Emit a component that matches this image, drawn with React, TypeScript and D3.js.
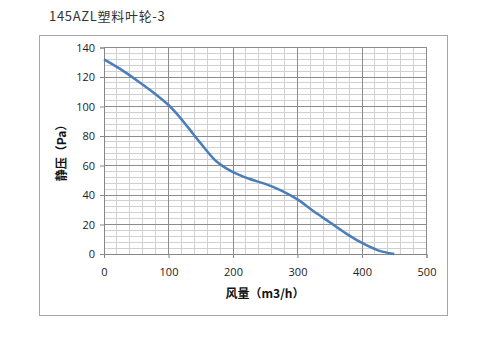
import React, { useEffect, useRef } from "react";
import * as d3 from "d3";

const flow = [0, 25, 50, 75, 100, 115, 130, 150, 175, 200, 225, 250, 275, 300, 325, 350, 375, 400, 425, 450];
const pressure = [132, 125.5, 118, 110, 101, 94, 86, 75, 62.5, 55.5, 51, 47.5, 43, 37, 29, 21.5, 14, 7.5, 2.5, 0];
const xTicks = [0, 100, 200, 300, 400, 500];
const yTicks = [0, 20, 40, 60, 80, 100, 120, 140];

const title = "145AZL塑料叶轮-3";
const xTitle = "风量（m3/h）";
const yTitle = "静压（Pa）";

export default function App() {
  const ref = useRef<SVGSVGElement>(null);

  useEffect(() => {
    const svg = d3.select(ref.current);
    svg.selectAll("*").remove();

    const x = d3.scaleLinear().domain([0, 500]).range([104, 426.5]);
    const y = d3.scaleLinear().domain([0, 140]).range([254, 47.5]);

    // chart frame
    svg.append("rect")
      .attr("x", 39.5).attr("y", 35.5)
      .attr("width", 408).attr("height", 280)
      .attr("fill", "#fff")
      .attr("stroke", "#a6a6a6");

    // minor grid
    const g = svg.append("g").attr("shape-rendering", "crispEdges");
    g.selectAll(".vmin")
      .data(d3.range(0, 501, 20))
      .enter().append("line")
      .attr("x1", d => x(d)).attr("x2", d => x(d))
      .attr("y1", y(0)).attr("y2", y(140))
      .attr("stroke", "#d0d0d0");
    g.selectAll(".hmin")
      .data(d3.range(0, 141, 4))
      .enter().append("line")
      .attr("x1", x(0)).attr("x2", x(500))
      .attr("y1", d => y(d)).attr("y2", d => y(d))
      .attr("stroke", "#d0d0d0");
    // major grid
    g.selectAll(".vmaj")
      .data(xTicks)
      .enter().append("line")
      .attr("x1", d => x(d)).attr("x2", d => x(d))
      .attr("y1", y(0)).attr("y2", y(140))
      .attr("stroke", "#8c8c8c");
    g.selectAll(".hmaj")
      .data(yTicks)
      .enter().append("line")
      .attr("x1", x(0)).attr("x2", x(500))
      .attr("y1", d => y(d)).attr("y2", d => y(d))
      .attr("stroke", "#8c8c8c");

    // axes
    const xAxis = svg.append("g")
      .attr("transform", "translate(0," + y(0) + ")")
      .call(d3.axisBottom(x).tickValues(xTicks).tickSize(4).tickPadding(10));
    const yAxis = svg.append("g")
      .attr("transform", "translate(" + x(0) + ",0)")
      .call(d3.axisLeft(y).tickValues(yTicks).tickSize(4).tickPadding(5));
    [xAxis, yAxis].forEach(a => {
      a.select(".domain").attr("stroke", "#868686");
      a.selectAll(".tick line").attr("stroke", "#868686");
      a.selectAll("text")
        .attr("fill", "#222")
        .style("font-family", "'Open Sans', 'DejaVu Sans', sans-serif")
        .style("font-size", "11px");
    });

    // curve
    const pts = flow.map((f, i) => [f, pressure[i]] as [number, number]);
    svg.append("path")
      .datum(pts)
      .attr("fill", "none")
      .attr("stroke", "#4a7ebb")
      .attr("stroke-width", 2.5)
      .attr("d", d3.line<[number, number]>()
        .x(d => x(d[0]))
        .y(d => y(d[1]))
        .curve(d3.curveCatmullRom.alpha(0.5)));

    // title
    svg.append("text")
      .attr("x", 49).attr("y", 21)
      .attr("fill", "#333")
      .style("font-family", "'Noto Sans CJK SC', 'DejaVu Sans Mono', monospace")
      .style("font-size", "13px")
      .style("letter-spacing", "0.7px")
      .text(title);

    // axis titles
    svg.append("text")
      .attr("x", 265).attr("y", 298)
      .attr("text-anchor", "middle")
      .attr("fill", "#111")
      .style("font-family", "'Noto Sans CJK SC', sans-serif")
      .style("font-size", "12px")
      .style("font-weight", "bold")
      .text(xTitle);
    svg.append("text")
      .attr("transform", "translate(66,150) rotate(-90)")
      .attr("text-anchor", "middle")
      .attr("fill", "#111")
      .style("font-family", "'Noto Sans CJK SC', sans-serif")
      .style("font-size", "12px")
      .style("font-weight", "bold")
      .text(yTitle);
  }, []);

  return (
    <svg ref={ref} width={500} height={352}
      style={{ position: "absolute", left: 0, top: 0, background: "#fff" }} />
  );
}
